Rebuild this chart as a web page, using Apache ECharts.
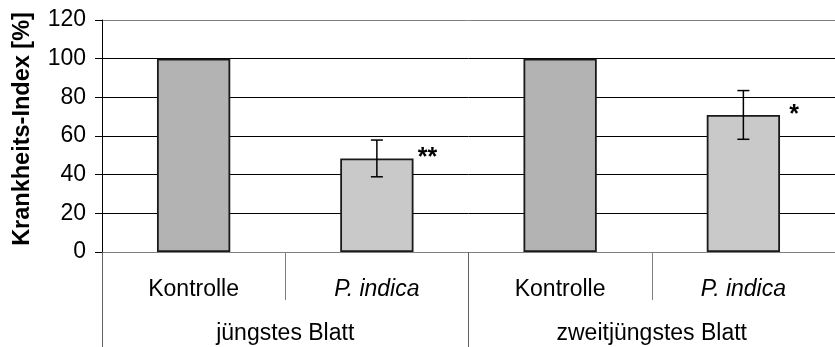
<!DOCTYPE html>
<html>
<head>
<meta charset="utf-8">
<script src="https://cdn.jsdelivr.net/npm/echarts@6/dist/echarts.min.js"></script>
<style>
  html, body { margin: 0; padding: 0; background: #fff; }
  #chart { width: 835px; height: 347px; }
</style>
</head>
<body>
<div id="chart"></div>
<script>
const categories = ['Kontrolle', 'P. indica', 'Kontrolle', 'P. indica'];
const italicCats = [false, true, false, true];
const groups = ['jüngstes Blatt', 'zweitjüngstes Blatt'];
const values = [100, 48.4, 100, 70.9];
const errors = [null, 9.5, null, 12.6];
const stars = ['', '**', '', '*'];
const barColors = ['#b3b3b3', '#c9c9c9', '#b3b3b3', '#c9c9c9'];
const yTitle = 'Krankheits-Index [%]';
const yMin = 0, yMax = 120, yStep = 20;

const FONT = '"Liberation Sans", Arial, sans-serif';
const chart = echarts.init(document.getElementById('chart'), null, { renderer: 'canvas' });

const errData = [];
values.forEach((v, i) => { if (errors[i] != null) errData.push([i, v, errors[i]]); });

const option = {
  animation: false,
  backgroundColor: '#fff',
  grid: { left: 102, right: -7, top: 20, bottom: 95, containLabel: false },
  xAxis: [
    {
      type: 'category',
      data: categories.map((c, i) => ({ value: c, textStyle: { fontStyle: italicCats[i] ? 'italic' : 'normal' } })),
      position: 'bottom',
      axisLine: { show: true, lineStyle: { color: '#808080', width: 1 } },
      axisTick: { show: true, length: 48, alignWithLabel: false, lineStyle: { color: '#808080', width: 1 } },
      axisLabel: { margin: 26, fontFamily: FONT, fontSize: 23, color: '#000' },
      splitLine: { show: false }
    },
    {
      type: 'category',
      data: groups,
      position: 'bottom',
      axisLine: { show: false },
      axisTick: { show: true, length: 100, lineStyle: { color: '#606060', width: 1 } },
      axisLabel: { margin: 70, fontFamily: FONT, fontSize: 23, color: '#000' },
      splitLine: { show: false }
    }
  ],
  yAxis: {
    type: 'value',
    min: yMin, max: yMax, interval: yStep,
    axisLine: { show: true, lineStyle: { color: '#000', width: 1 } },
    axisTick: { show: true, length: 7, lineStyle: { color: '#000' } },
    axisLabel: { margin: 16, fontFamily: FONT, fontSize: 23, color: '#000' },
    splitLine: { show: true, lineStyle: { color: ['#808080', '#000', '#000', '#000', '#000', '#000', '#808080'], width: 1 } }
  },
  graphic: [
    {
      type: 'text', x: 23, y: 129, rotation: Math.PI / 2,
      style: { text: yTitle, font: 'bold 23.5px ' + FONT, fill: '#000', align: 'center', verticalAlign: 'middle' }
    }
  ],
  series: [
    {
      type: 'bar',
      xAxisIndex: 0,
      barWidth: '40%',
      data: values.map((v, i) => ({ value: v, itemStyle: { color: barColors[i] } })),
      itemStyle: { borderColor: '#1a1a1a', borderWidth: 1.8 },
      z: 2
    },
    {
      type: 'custom',
      xAxisIndex: 0,
      data: errData,
      z: 5,
      renderItem: function (params, api) {
        const ci = api.value(0), v = api.value(1), e = api.value(2);
        const top = api.coord([ci, v]);
        const hi = api.coord([ci, v + e]);
        const lo = api.coord([ci, v - e]);
        const band = api.size([1, 0])[0];
        const cap = 6;
        const ls = { stroke: '#000', lineWidth: 1.5 };
        return {
          type: 'group',
          children: [
            { type: 'line', shape: { x1: hi[0], y1: hi[1], x2: lo[0], y2: lo[1] }, style: ls },
            { type: 'line', shape: { x1: hi[0] - cap, y1: hi[1], x2: hi[0] + cap, y2: hi[1] }, style: ls },
            { type: 'line', shape: { x1: lo[0] - cap, y1: lo[1], x2: lo[0] + cap, y2: lo[1] }, style: ls },
            { type: 'text', x: top[0] + band * 0.2 + 14, y: top[1],
              style: { text: stars[ci], font: 'bold 25px ' + FONT, fill: '#000', align: 'center', verticalAlign: 'middle' } }
          ]
        };
      }
    }
  ]
};
chart.setOption(option);
</script>
</body>
</html>
